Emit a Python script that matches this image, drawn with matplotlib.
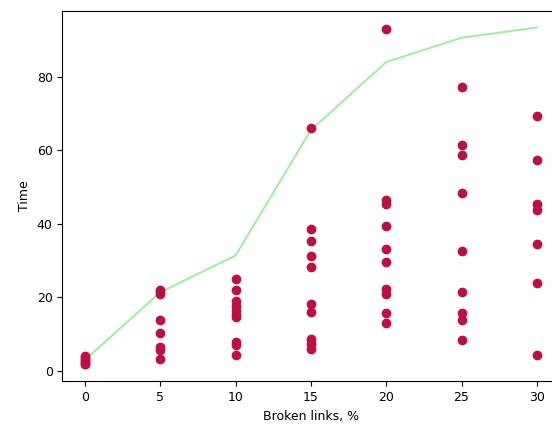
import matplotlib
matplotlib.use("Agg")
import matplotlib.pyplot as plt

# broken links (%) and measured times, one list per group
x_levels = [0, 5, 10, 15, 20, 25, 30]
times = {
    0: [4.0, 3.5, 3.0, 2.5, 2.0, 1.8],
    5: [22.1, 21.5, 20.9, 14.0, 10.3, 6.6, 5.7, 3.3],
    10: [25.1, 22.1, 19.1, 17.8, 16.5, 15.4, 14.6, 8.0, 7.2, 4.4],
    15: [66.2, 38.5, 35.3, 31.3, 28.3, 18.3, 16.0, 8.6, 7.4, 6.1],
    20: [93.0, 46.5, 45.5, 39.4, 33.1, 29.6, 22.4, 20.9, 15.8, 13.0],
    25: [77.3, 61.5, 58.6, 48.3, 32.6, 21.4, 15.9, 14.0, 8.3],
    30: [69.2, 57.5, 45.4, 43.8, 34.5, 23.9, 4.3],
}
# the green curve
curve = [3.0, 21.4, 31.4, 65.5, 84.0, 90.6, 93.4]

xs = []
ys = []
for k in x_levels:
    for t in times[k]:
        xs.append(k)
        ys.append(t)

fig = plt.figure(figsize=(5.52, 4.25), dpi=100)
# right edge of the axes sits just past the picture, as in the reference
ax = fig.add_axes([0.113, 0.103, 0.9005, 0.872])

ax.plot(x_levels, curve, color="#90EE90", lw=1.4, alpha=0.9)
ax.scatter(xs, ys, color="#BE0F45", s=36, zorder=3)

ax.set_xticks(x_levels)
ax.set_yticks([0, 20, 40, 60, 80])
ax.tick_params(labelsize=9)
ax.set_xlabel("Broken links, %", fontsize=9)
ax.set_ylabel("Time", fontsize=9)

fig.savefig("out.png", dpi=100)
